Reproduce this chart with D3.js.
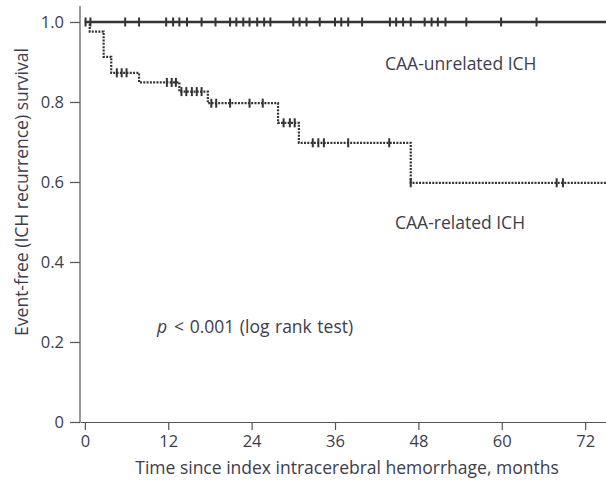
<!DOCTYPE html>
<html>
<head>
<meta charset="utf-8">
<script src="https://cdn.jsdelivr.net/npm/d3@7"></script>
<style>
  body { margin: 0; background: #fff; }
  text { font-family: "Open Sans", "Noto Sans", sans-serif; fill: #3d3d4d; }
</style>
</head>
<body>
<div id="chart"></div>
<script>
// KM data, CAA-related ICH (event times in months, survival after each event)
var relatedTimes = [0, 0.7, 2.7, 3.8, 7.8, 13.6, 17.7, 27.8, 30.8, 46.9];
var relatedSurv  = [1.0, 0.976, 0.913, 0.873, 0.849, 0.826, 0.797, 0.748, 0.698, 0.598];
var relatedCensor = [4.6, 5.3, 6.0, 11.8, 12.5, 13.1, 13.9, 14.6, 15.4, 16.1, 16.8,
  18.2, 18.9, 20.9, 23.7, 25.6, 28.6, 29.5, 30.2, 32.8, 33.6, 34.4, 37.9, 43.8, 46.9, 67.9, 68.8];

// CAA-unrelated ICH: no events, only censored
var unrelatedCensor = [0.1, 0.8, 5.8, 7.8, 11.7, 12.7, 13.6, 14.7, 16.8, 18.8, 20.9, 21.8,
  22.8, 23.7, 24.8, 25.8, 26.7, 30.0, 30.9, 31.9, 33.8, 36.0, 36.9, 37.9, 39.9, 43.9,
  44.8, 45.8, 46.9, 48.9, 49.9, 50.8, 51.9, 54.9, 59.9, 65.0];

var xTicks = [0, 12, 24, 36, 48, 60, 72];
var yTicks = [0, 0.2, 0.4, 0.6, 0.8, 1.0];
var tMax = 75;

var svg = d3.select("#chart")
  .append("svg")
  .attr("width", 606)
  .attr("height", 485);

var x = d3.scaleLinear().domain([-0.7, tMax]).range([80, 606]);
var y = d3.scaleLinear().domain([0, 1]).range([422, 22]);

// axes
var xAxis = svg.append("g")
  .attr("transform", "translate(0,422)")
  .call(d3.axisBottom(x).tickValues(xTicks).tickSize(8).tickSizeOuter(0).tickPadding(5));
var yAxis = svg.append("g")
  .attr("transform", "translate(80,0)")
  .call(d3.axisLeft(y).tickValues(yTicks).tickSize(10).tickSizeOuter(0).tickPadding(6)
    .tickFormat(function(d){ return d === 0 ? "0" : d3.format(".1f")(d); }));
yAxis.select(".domain").attr("d", "M0," + y(1.04) + "V" + y(0));

svg.selectAll(".domain, .tick line").attr("stroke", "#555").attr("stroke-width", 1.2);
svg.selectAll(".tick text").attr("font-size", 16.5).attr("fill", "#3d3d4d")
  .attr("font-family", "'Open Sans', sans-serif");

// step lookup
function survAt(t){
  var s = 1;
  for (var i = 0; i < relatedTimes.length; i++) {
    if (relatedTimes[i] <= t) s = relatedSurv[i];
  }
  return s;
}

// unrelated: solid line at 1.0
svg.append("path")
  .datum([0, tMax])
  .attr("d", d3.line().x(function(d){ return x(d); }).y(function(){ return y(1); }))
  .attr("stroke", "#333")
  .attr("stroke-width", 2.6)
  .attr("fill", "none");

svg.selectAll(".cu").data(unrelatedCensor).enter()
  .append("line").attr("class", "cu")
  .attr("x1", function(d){ return x(d); }).attr("x2", function(d){ return x(d); })
  .attr("y1", y(1) - 4.5).attr("y2", y(1) + 4.5)
  .attr("stroke", "#333").attr("stroke-width", 2);

// related: dotted step line
var relPts = relatedTimes.map(function(t, i){ return [t, relatedSurv[i]]; });
relPts.push([tMax, relatedSurv[relatedSurv.length - 1]]);

svg.append("path")
  .datum(relPts)
  .attr("d", d3.line().curve(d3.curveStepAfter)
    .x(function(d){ return x(d[0]); }).y(function(d){ return y(d[1]); }))
  .attr("stroke", "#333")
  .attr("stroke-width", 2.2)
  .attr("stroke-dasharray", "2,1.3")
  .attr("fill", "none");

svg.selectAll(".cr").data(relatedCensor).enter()
  .append("line").attr("class", "cr")
  .attr("x1", function(d){ return x(d); }).attr("x2", function(d){ return x(d); })
  .attr("y1", function(d){ return y(survAt(d)) - 4.5; })
  .attr("y2", function(d){ return y(survAt(d)) + 4.5; })
  .attr("stroke", "#333").attr("stroke-width", 2);

// labels
svg.append("text").attr("x", 385).attr("y", 70).attr("font-size", 17.5).text("CAA-unrelated ICH");
svg.append("text").attr("x", 395).attr("y", 229).attr("font-size", 17.5).text("CAA-related ICH");

var pt = svg.append("text").attr("x", 157).attr("y", 333).attr("font-size", 17.5)
  .attr("word-spacing", 1);
pt.append("tspan").attr("font-style", "italic").text("p");
pt.append("tspan").attr("dx", 7).text("< 0.001 (log rank test)");

svg.append("text")
  .attr("x", 347).attr("y", 474)
  .attr("text-anchor", "middle").attr("font-size", 17.5)
  .text("Time since index intracerebral hemorrhage, months");

svg.append("text")
  .attr("transform", "translate(28,192) rotate(-90)")
  .attr("text-anchor", "middle").attr("font-size", 17.5)
  .text("Event-free (ICH recurrence) survival");
</script>
</body>
</html>
